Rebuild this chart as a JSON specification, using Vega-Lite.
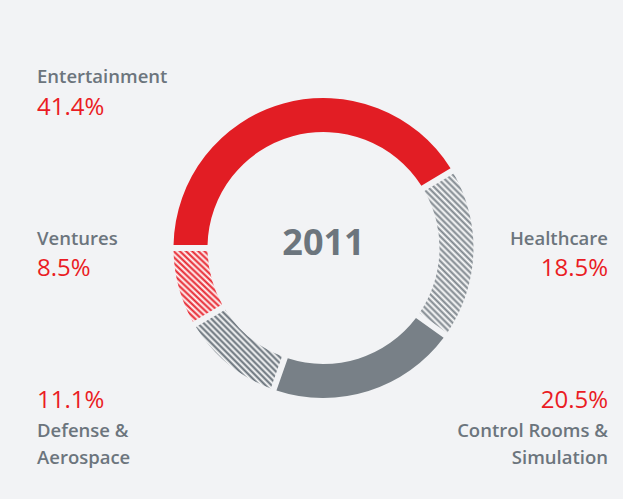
{
"$schema": "https://vega.github.io/schema/vega-lite/v6.json",
"width": 599,
"height": 496,
"autosize": {"type": "none"},
"padding": {"left": 24, "top": 0, "right": 0, "bottom": 3},
"background": "#f2f3f5",
"config": {"view": {"stroke": null}, "font": "Open Sans"},
"data": {"values": [
 {"sector": "Entertainment", "share": 0.414, "label": "Entertainment"},
 {"sector": "Healthcare", "share": 0.185, "label": "Healthcare"},
 {"sector": "Control Rooms & Simulation", "share": 0.205, "label": "Control Rooms &\nSimulation"},
 {"sector": "Defense & Aerospace", "share": 0.111, "label": "Defense &\nAerospace"},
 {"sector": "Ventures", "share": 0.085, "label": "Ventures"}
]},
"layer": [
 {
  "transform": [{"window": [{"op": "row_number", "as": "idx"}]}],
  "mark": {"type": "arc", "outerRadius": 150, "innerRadius": 116, "padAngle": 0.032},
  "encoding": {
   "theta": {"field": "share", "type": "quantitative", "stack": true, "scale": {"range": [4.712389, 10.995574]}},
   "order": {"field": "idx", "type": "quantitative"},
   "detail": {"field": "sector", "type": "nominal"},
   "color": {
    "condition": [
     {"test": "datum.sector === 'Healthcare'", "value": {"gradient": "linear", "x1": 0, "y1": 1, "x2": 0.47, "y2": -0.389, "stops": [
{"offset":0,"color":"#7b838a"},{"offset":0.0125,"color":"#ffffff"},{"offset":0.025,"color":"#7b838a"},{"offset":0.0375,"color":"#ffffff"},{"offset":0.05,"color":"#7b838a"},{"offset":0.0625,"color":"#ffffff"},{"offset":0.075,"color":"#7b838a"},{"offset":0.0875,"color":"#ffffff"},{"offset":0.1,"color":"#7b838a"},{"offset":0.1125,"color":"#ffffff"},{"offset":0.125,"color":"#7b838a"},{"offset":0.1375,"color":"#ffffff"},{"offset":0.15,"color":"#7b838a"},{"offset":0.1625,"color":"#ffffff"},{"offset":0.175,"color":"#7b838a"},{"offset":0.1875,"color":"#ffffff"},{"offset":0.2,"color":"#7b838a"},{"offset":0.2125,"color":"#ffffff"},{"offset":0.225,"color":"#7b838a"},{"offset":0.2375,"color":"#ffffff"},{"offset":0.25,"color":"#7b838a"},{"offset":0.2625,"color":"#ffffff"},{"offset":0.275,"color":"#7b838a"},{"offset":0.2875,"color":"#ffffff"},{"offset":0.3,"color":"#7b838a"},{"offset":0.3125,"color":"#ffffff"},{"offset":0.325,"color":"#7b838a"},{"offset":0.3375,"color":"#ffffff"},{"offset":0.35,"color":"#7b838a"},{"offset":0.3625,"color":"#ffffff"},{"offset":0.375,"color":"#7b838a"},{"offset":0.3875,"color":"#ffffff"},{"offset":0.4,"color":"#7b838a"},{"offset":0.4125,"color":"#ffffff"},{"offset":0.425,"color":"#7b838a"},{"offset":0.4375,"color":"#ffffff"},{"offset":0.45,"color":"#7b838a"},{"offset":0.4625,"color":"#ffffff"},{"offset":0.475,"color":"#7b838a"},{"offset":0.4875,"color":"#ffffff"},{"offset":0.5,"color":"#7b838a"},{"offset":0.5125,"color":"#ffffff"},{"offset":0.525,"color":"#7b838a"},{"offset":0.5375,"color":"#ffffff"},{"offset":0.55,"color":"#7b838a"},{"offset":0.5625,"color":"#ffffff"},{"offset":0.575,"color":"#7b838a"},{"offset":0.5875,"color":"#ffffff"},{"offset":0.6,"color":"#7b838a"},{"offset":0.6125,"color":"#ffffff"},{"offset":0.625,"color":"#7b838a"},{"offset":0.6375,"color":"#ffffff"},{"offset":0.65,"color":"#7b838a"},{"offset":0.6625,"color":"#ffffff"},{"offset":0.675,"color":"#7b838a"},{"offset":0.6875,"color":"#ffffff"},{"offset":0.7,"color":"#7b838a"},{"offset":0.7125,"color":"#ffffff"},{"offset":0.725,"color":"#7b838a"},{"offset":0.7375,"color":"#ffffff"},{"offset":0.75,"color":"#7b838a"},{"offset":0.7625,"color":"#ffffff"},{"offset":0.775,"color":"#7b838a"},{"offset":0.7875,"color":"#ffffff"},{"offset":0.8,"color":"#7b838a"},{"offset":0.8125,"color":"#ffffff"},{"offset":0.825,"color":"#7b838a"},{"offset":0.8375,"color":"#ffffff"},{"offset":0.85,"color":"#7b838a"},{"offset":0.8625,"color":"#ffffff"},{"offset":0.875,"color":"#7b838a"},{"offset":0.8875,"color":"#ffffff"},{"offset":0.9,"color":"#7b838a"},{"offset":0.9125,"color":"#ffffff"},{"offset":0.925,"color":"#7b838a"},{"offset":0.9375,"color":"#ffffff"},{"offset":0.95,"color":"#7b838a"},{"offset":0.9625,"color":"#ffffff"},{"offset":0.975,"color":"#7b838a"},{"offset":0.9875,"color":"#ffffff"},{"offset":1,"color":"#7b838a"}
     ]}},
     {"test": "datum.sector === 'Defense & Aerospace'", "value": {"gradient": "linear", "x1": 0, "y1": 1, "x2": 1.538, "y2": -0.399, "stops": [
{"offset":0,"color":"#606a73"},{"offset":0.0125,"color":"#ffffff"},{"offset":0.025,"color":"#606a73"},{"offset":0.0375,"color":"#ffffff"},{"offset":0.05,"color":"#606a73"},{"offset":0.0625,"color":"#ffffff"},{"offset":0.075,"color":"#606a73"},{"offset":0.0875,"color":"#ffffff"},{"offset":0.1,"color":"#606a73"},{"offset":0.1125,"color":"#ffffff"},{"offset":0.125,"color":"#606a73"},{"offset":0.1375,"color":"#ffffff"},{"offset":0.15,"color":"#606a73"},{"offset":0.1625,"color":"#ffffff"},{"offset":0.175,"color":"#606a73"},{"offset":0.1875,"color":"#ffffff"},{"offset":0.2,"color":"#606a73"},{"offset":0.2125,"color":"#ffffff"},{"offset":0.225,"color":"#606a73"},{"offset":0.2375,"color":"#ffffff"},{"offset":0.25,"color":"#606a73"},{"offset":0.2625,"color":"#ffffff"},{"offset":0.275,"color":"#606a73"},{"offset":0.2875,"color":"#ffffff"},{"offset":0.3,"color":"#606a73"},{"offset":0.3125,"color":"#ffffff"},{"offset":0.325,"color":"#606a73"},{"offset":0.3375,"color":"#ffffff"},{"offset":0.35,"color":"#606a73"},{"offset":0.3625,"color":"#ffffff"},{"offset":0.375,"color":"#606a73"},{"offset":0.3875,"color":"#ffffff"},{"offset":0.4,"color":"#606a73"},{"offset":0.4125,"color":"#ffffff"},{"offset":0.425,"color":"#606a73"},{"offset":0.4375,"color":"#ffffff"},{"offset":0.45,"color":"#606a73"},{"offset":0.4625,"color":"#ffffff"},{"offset":0.475,"color":"#606a73"},{"offset":0.4875,"color":"#ffffff"},{"offset":0.5,"color":"#606a73"},{"offset":0.5125,"color":"#ffffff"},{"offset":0.525,"color":"#606a73"},{"offset":0.5375,"color":"#ffffff"},{"offset":0.55,"color":"#606a73"},{"offset":0.5625,"color":"#ffffff"},{"offset":0.575,"color":"#606a73"},{"offset":0.5875,"color":"#ffffff"},{"offset":0.6,"color":"#606a73"},{"offset":0.6125,"color":"#ffffff"},{"offset":0.625,"color":"#606a73"},{"offset":0.6375,"color":"#ffffff"},{"offset":0.65,"color":"#606a73"},{"offset":0.6625,"color":"#ffffff"},{"offset":0.675,"color":"#606a73"},{"offset":0.6875,"color":"#ffffff"},{"offset":0.7,"color":"#606a73"},{"offset":0.7125,"color":"#ffffff"},{"offset":0.725,"color":"#606a73"},{"offset":0.7375,"color":"#ffffff"},{"offset":0.75,"color":"#606a73"},{"offset":0.7625,"color":"#ffffff"},{"offset":0.775,"color":"#606a73"},{"offset":0.7875,"color":"#ffffff"},{"offset":0.8,"color":"#606a73"},{"offset":0.8125,"color":"#ffffff"},{"offset":0.825,"color":"#606a73"},{"offset":0.8375,"color":"#ffffff"},{"offset":0.85,"color":"#606a73"},{"offset":0.8625,"color":"#ffffff"},{"offset":0.875,"color":"#606a73"},{"offset":0.8875,"color":"#ffffff"},{"offset":0.9,"color":"#606a73"},{"offset":0.9125,"color":"#ffffff"},{"offset":0.925,"color":"#606a73"},{"offset":0.9375,"color":"#ffffff"},{"offset":0.95,"color":"#606a73"},{"offset":0.9625,"color":"#ffffff"},{"offset":0.975,"color":"#606a73"},{"offset":0.9875,"color":"#ffffff"},{"offset":1,"color":"#606a73"}
     ]}},
     {"test": "datum.sector === 'Ventures'", "value": {"gradient": "linear", "x1": 0, "y1": 1, "x2": 1.528, "y2": -1.33, "stops": [
{"offset":0,"color":"#e61e28"},{"offset":0.0125,"color":"#ffffff"},{"offset":0.025,"color":"#e61e28"},{"offset":0.0375,"color":"#ffffff"},{"offset":0.05,"color":"#e61e28"},{"offset":0.0625,"color":"#ffffff"},{"offset":0.075,"color":"#e61e28"},{"offset":0.0875,"color":"#ffffff"},{"offset":0.1,"color":"#e61e28"},{"offset":0.1125,"color":"#ffffff"},{"offset":0.125,"color":"#e61e28"},{"offset":0.1375,"color":"#ffffff"},{"offset":0.15,"color":"#e61e28"},{"offset":0.1625,"color":"#ffffff"},{"offset":0.175,"color":"#e61e28"},{"offset":0.1875,"color":"#ffffff"},{"offset":0.2,"color":"#e61e28"},{"offset":0.2125,"color":"#ffffff"},{"offset":0.225,"color":"#e61e28"},{"offset":0.2375,"color":"#ffffff"},{"offset":0.25,"color":"#e61e28"},{"offset":0.2625,"color":"#ffffff"},{"offset":0.275,"color":"#e61e28"},{"offset":0.2875,"color":"#ffffff"},{"offset":0.3,"color":"#e61e28"},{"offset":0.3125,"color":"#ffffff"},{"offset":0.325,"color":"#e61e28"},{"offset":0.3375,"color":"#ffffff"},{"offset":0.35,"color":"#e61e28"},{"offset":0.3625,"color":"#ffffff"},{"offset":0.375,"color":"#e61e28"},{"offset":0.3875,"color":"#ffffff"},{"offset":0.4,"color":"#e61e28"},{"offset":0.4125,"color":"#ffffff"},{"offset":0.425,"color":"#e61e28"},{"offset":0.4375,"color":"#ffffff"},{"offset":0.45,"color":"#e61e28"},{"offset":0.4625,"color":"#ffffff"},{"offset":0.475,"color":"#e61e28"},{"offset":0.4875,"color":"#ffffff"},{"offset":0.5,"color":"#e61e28"},{"offset":0.5125,"color":"#ffffff"},{"offset":0.525,"color":"#e61e28"},{"offset":0.5375,"color":"#ffffff"},{"offset":0.55,"color":"#e61e28"},{"offset":0.5625,"color":"#ffffff"},{"offset":0.575,"color":"#e61e28"},{"offset":0.5875,"color":"#ffffff"},{"offset":0.6,"color":"#e61e28"},{"offset":0.6125,"color":"#ffffff"},{"offset":0.625,"color":"#e61e28"},{"offset":0.6375,"color":"#ffffff"},{"offset":0.65,"color":"#e61e28"},{"offset":0.6625,"color":"#ffffff"},{"offset":0.675,"color":"#e61e28"},{"offset":0.6875,"color":"#ffffff"},{"offset":0.7,"color":"#e61e28"},{"offset":0.7125,"color":"#ffffff"},{"offset":0.725,"color":"#e61e28"},{"offset":0.7375,"color":"#ffffff"},{"offset":0.75,"color":"#e61e28"},{"offset":0.7625,"color":"#ffffff"},{"offset":0.775,"color":"#e61e28"},{"offset":0.7875,"color":"#ffffff"},{"offset":0.8,"color":"#e61e28"},{"offset":0.8125,"color":"#ffffff"},{"offset":0.825,"color":"#e61e28"},{"offset":0.8375,"color":"#ffffff"},{"offset":0.85,"color":"#e61e28"},{"offset":0.8625,"color":"#ffffff"},{"offset":0.875,"color":"#e61e28"},{"offset":0.8875,"color":"#ffffff"},{"offset":0.9,"color":"#e61e28"},{"offset":0.9125,"color":"#ffffff"},{"offset":0.925,"color":"#e61e28"},{"offset":0.9375,"color":"#ffffff"},{"offset":0.95,"color":"#e61e28"},{"offset":0.9625,"color":"#ffffff"},{"offset":0.975,"color":"#e61e28"},{"offset":0.9875,"color":"#ffffff"},{"offset":1,"color":"#e61e28"}
     ]}},
     {"test": "datum.sector === 'Control Rooms & Simulation'", "value": "#788087"}
    ],
    "value": "#e21d24"
   }
  }
 },
 {
  "data": {"values": [{"year": "2011"}]},
  "mark": {"type": "text", "fontSize": 36, "fontWeight": "bold", "color": "#6c757d", "align": "center", "baseline": "middle", "dy": -4},
  "encoding": {"text": {"field": "year", "type": "nominal"}}
 },
 {
  "transform": [{"window": [{"op": "row_number", "as": "idx"}]}, {"filter": {"field": "sector", "oneOf": ["Entertainment", "Defense & Aerospace", "Ventures"]}}],
  "mark": {"type": "text", "align": "left", "baseline": "alphabetic", "fontSize": 18.5, "fontWeight": 600, "color": "#6c757d", "lineBreak": "\n", "lineHeight": 27},
  "encoding": {
   "text": {"field": "label", "type": "nominal"},
   "x": {"field": "idx", "type": "quantitative", "scale": {"domain": [1, 2, 3, 4, 5], "range": [13, 584, 584, 13, 13]}, "axis": null},
   "y": {"field": "idx", "type": "quantitative", "scale": {"domain": [1, 2, 3, 4, 5], "range": [83, 245, 437, 437, 245]}, "axis": null}
  }
 },
 {
  "transform": [{"window": [{"op": "row_number", "as": "idx"}]}, {"filter": {"field": "sector", "oneOf": ["Healthcare", "Control Rooms & Simulation"]}}],
  "mark": {"type": "text", "align": "right", "baseline": "alphabetic", "fontSize": 18.5, "fontWeight": 600, "color": "#6c757d", "lineBreak": "\n", "lineHeight": 27},
  "encoding": {
   "text": {"field": "label", "type": "nominal"},
   "x": {"field": "idx", "type": "quantitative", "scale": {"domain": [1, 2, 3, 4, 5], "range": [13, 584, 584, 13, 13]}, "axis": null},
   "y": {"field": "idx", "type": "quantitative", "scale": {"domain": [1, 2, 3, 4, 5], "range": [83, 245, 437, 437, 245]}, "axis": null}
  }
 },
 {
  "transform": [{"window": [{"op": "row_number", "as": "idx"}]}, {"filter": {"field": "sector", "oneOf": ["Entertainment", "Defense & Aerospace", "Ventures"]}}],
  "mark": {"type": "text", "align": "left", "baseline": "alphabetic", "fontSize": 24, "fontWeight": 500, "color": "#ea1c24"},
  "encoding": {
   "text": {"field": "share", "type": "quantitative", "format": ".1%"},
   "x": {"field": "idx", "type": "quantitative", "scale": {"domain": [1, 2, 3, 4, 5], "range": [13, 584, 584, 13, 13]}, "axis": null},
   "y": {"field": "idx", "type": "quantitative", "scale": {"domain": [1, 2, 3, 4, 5], "range": [115, 276, 408, 408, 276]}, "axis": null}
  }
 },
 {
  "transform": [{"window": [{"op": "row_number", "as": "idx"}]}, {"filter": {"field": "sector", "oneOf": ["Healthcare", "Control Rooms & Simulation"]}}],
  "mark": {"type": "text", "align": "right", "baseline": "alphabetic", "fontSize": 24, "fontWeight": 500, "color": "#ea1c24"},
  "encoding": {
   "text": {"field": "share", "type": "quantitative", "format": ".1%"},
   "x": {"field": "idx", "type": "quantitative", "scale": {"domain": [1, 2, 3, 4, 5], "range": [13, 584, 584, 13, 13]}, "axis": null},
   "y": {"field": "idx", "type": "quantitative", "scale": {"domain": [1, 2, 3, 4, 5], "range": [115, 276, 408, 408, 276]}, "axis": null}
  }
 }
],
"resolve": {"scale": {"x": "independent", "y": "independent"}}
}
